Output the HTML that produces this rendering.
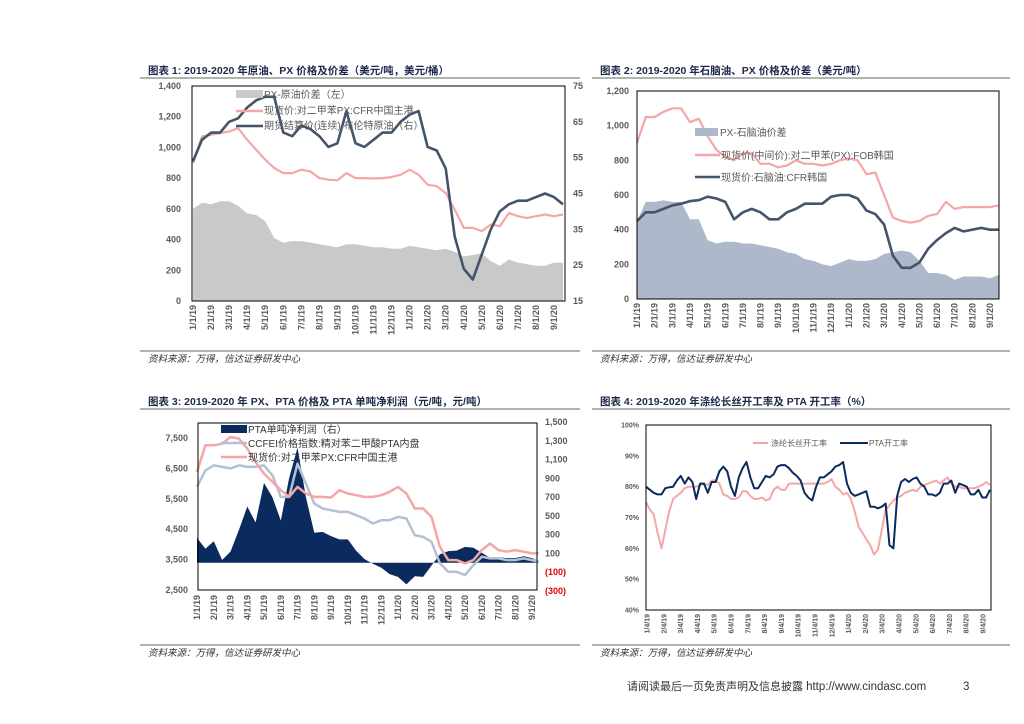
<!DOCTYPE html>
<html><head><meta charset="utf-8">
<style>
html,body{margin:0;padding:0;background:#fff;width:1024px;height:724px;overflow:hidden;}
svg text{font-family:"Liberation Sans","Noto Sans CJK SC",sans-serif;}
.tt{font-size:10.5px;font-weight:bold;fill:#1c2a4a;}
.tk{font-size:9px;font-weight:bold;fill:#595959;}
.tk4{font-size:7px;font-weight:bold;fill:#595959;}
.src{font-size:9.5px;font-style:italic;fill:#333;}
.lg{font-size:10px;fill:#595959;}
</style></head>
<body>
<svg id="page" width="1024" height="724" viewBox="0 0 1024 724" xmlns="http://www.w3.org/2000/svg">
<g>
<text class="tt" x="148" y="74">图表 1:  2019-2020 年原油、PX 价格及价差（美元/吨，美元/桶）</text>
<line x1="140" y1="78" x2="580" y2="78" stroke="#333" stroke-width="0.8"/>
</g>
<g>
<text class="tt" x="600" y="74">图表 2:  2019-2020 年石脑油、PX 价格及价差（美元/吨）</text>
<line x1="592" y1="78" x2="1010" y2="78" stroke="#333" stroke-width="0.8"/>
</g>
<g>
<text class="tt" x="148" y="405">图表 3:  2019-2020 年 PX、PTA 价格及 PTA 单吨净利润（元/吨，元/吨）</text>
<line x1="140" y1="409" x2="580" y2="409" stroke="#333" stroke-width="0.8"/>
</g>
<g>
<text class="tt" x="600" y="405">图表 4:    2019-2020 年涤纶长丝开工率及 PTA 开工率（%）</text>
<line x1="592" y1="409" x2="1010" y2="409" stroke="#333" stroke-width="0.8"/>
</g>
<line x1="140" y1="351" x2="580" y2="351" stroke="#333" stroke-width="0.8"/>
<line x1="592" y1="351" x2="1010" y2="351" stroke="#333" stroke-width="0.8"/>
<line x1="140" y1="645" x2="580" y2="645" stroke="#333" stroke-width="0.8"/>
<line x1="592" y1="645" x2="1010" y2="645" stroke="#333" stroke-width="0.8"/>
<text class="src" x="148" y="362">资料来源：万得，信达证券研发中心</text>
<text class="src" x="600" y="362">资料来源：万得，信达证券研发中心</text>
<text class="src" x="148" y="656">资料来源：万得，信达证券研发中心</text>
<text class="src" x="600" y="656">资料来源：万得，信达证券研发中心</text>
<text x="627" y="690" style="font-size:11px;fill:#333">请阅读最后一页免责声明及信息披露 <tspan style="font-size:11.5px">http://www.cindasc.com</tspan></text>
<text x="963" y="690" style="font-size:11.5px;fill:#333">3</text>
<g id="c1"></g>
<g id="c2"></g>
<g id="c3"></g>
<g id="c4"></g>
</svg>
<script>
// ---------- Chart 1 data ----------
const c1Months = [0,0.5,1,1.5,2,2.5,3,3.5,4,4.5,5,5.5,6,6.5,7,7.5,8,8.5,9,9.5,10,10.5,11,11.5,12,12.5,13,13.5,14,14.5,15,15.5,16,16.5,17,17.5,18,18.5,19,19.5,20,20.5];
const c1Spread = [600,640,630,650,650,620,570,560,520,410,380,390,390,380,370,360,350,370,370,360,350,350,340,340,360,350,340,330,340,320,290,300,310,260,230,270,250,240,230,230,250,250];
const c1PX = [898,1071,1082,1093,1104,1125,1050,985,920,866,833,833,855,844,800,790,786,833,800,800,798,800,807,822,855,822,758,747,703,595,476,476,455,498,487,573,552,541,552,563,552,563];
const c1Brent = [54,60,62,62,65,66,69,71,72,72,62,61,64,63,61,58,59,68,59,58,60,62,62,65,67,68,58,57,52,33,24,21,28,35,40,42,43,43,44,45,44,42];
const c1LeftTicks = [0,200,400,600,800,1000,1200,1400];
const c1LeftLabels = ["0","200","400","600","800","1,000","1,200","1,400"];
const c1RightTicks = [15,25,35,45,55,65,75];
const c1XLabels = ["1/1/19","2/1/19","3/1/19","4/1/19","5/1/19","6/1/19","7/1/19","8/1/19","9/1/19","10/1/19","11/1/19","12/1/19","1/1/20","2/1/20","3/1/20","4/1/20","5/1/20","6/1/20","7/1/20","8/1/20","9/1/20"];
// ---------- Chart 2 data ----------
const c2Months = [0,0.5,1,1.5,2,2.5,3,3.5,4,4.5,5,5.5,6,6.5,7,7.5,8,8.5,9,9.5,10,10.5,11,11.5,12,12.5,13,13.5,14,14.5,15,15.5,16,16.5,17,17.5,18,18.5,19,19.5,20,20.5];
const c2Spread = [450,560,560,570,560,560,460,460,340,320,330,330,320,320,310,300,290,270,260,230,220,200,190,210,230,220,220,230,260,270,280,270,220,150,150,140,110,130,130,130,120,140];
const c2PX = [900,1050,1050,1080,1100,1100,1020,1040,940,860,820,800,840,840,780,780,760,770,800,780,780,770,780,800,810,800,720,730,600,470,450,440,450,480,490,560,520,530,530,530,530,540];
const c2Naphtha = [450,500,500,520,540,550,565,570,590,580,560,460,500,520,500,460,460,500,520,550,550,550,590,600,600,580,510,490,430,250,180,180,210,290,340,380,410,390,400,410,400,400];
const c2Ticks = [0,200,400,600,800,1000,1200];
const c2Labels = ["0","200","400","600","800","1,000","1,200"];
// ---------- Chart 3 data ----------
const c3Months = [0,0.5,1,1.5,2,2.5,3,3.5,4,4.5,5,5.5,6,6.5,7,7.5,8,8.5,9,9.5,10,10.5,11,11.5,12,12.5,13,13.5,14,14.5,15,15.5,16,16.5,17,17.5,18,18.5,19,19.5,20,20.4];
const c3Profit = [266,150,230,30,120,350,600,430,850,700,450,900,1227,700,320,330,285,250,250,130,40,-10,-53,-120,-150,-230,-142,-150,-30,90,125,130,170,160,107,53,60,50,50,70,50,20];
const c3PX = [6384,7259,7259,7313,7532,7480,7150,6712,6330,6055,5782,5563,5891,5673,5563,5563,5540,5782,5673,5620,5563,5563,5620,5730,5891,5673,5180,5180,4906,3922,3485,3485,3375,3485,3813,4031,3813,3760,3813,3760,3703,3703];
const c3PTA = [5891,6438,6600,6550,6500,6600,6550,6550,6600,6274,5563,5563,6657,6000,5344,5180,5125,5070,5070,4962,4852,4688,4797,4797,4906,4852,4305,4250,4086,3375,3100,3100,2990,3320,3594,3540,3540,3485,3485,3540,3485,3430];
const c3LeftTicks = [2500,3500,4500,5500,6500,7500];
const c3LeftLabels = ["2,500","3,500","4,500","5,500","6,500","7,500"];
const c3RightTicks = [-300,-100,100,300,500,700,900,1100,1300,1500];
const c3RightLabels = ["(300)","(100)","100","300","500","700","900","1,100","1,300","1,500"];
const c3XLabels = c1XLabels;
// ---------- Chart 4 data ----------
const c4Weeks = [0,1,2,3,4,5,6,7,8,9,10,11,12,13,14,15,16,17,18,19,20,21,22,23,24,25,26,27,28,29,30,31,32,33,34,35,36,37,38,39,40,41,42,43,44,45,46,47,48,49,50,51,52,53,54,55,56,57,58,59,60,61,62,63,64,65,66,67,68,69,70,71,72,73,74,75,76,77,78,79,80,81,82,83,84,85,86,87,88,89];
const c4PTA = [80,79,78,77.5,77.5,79.5,79.8,80,82,83.5,81,83,81.5,76,81,81,78,81.5,81.5,85,86.5,85,80,77,83,86,88,83,79.5,79.5,81.5,83.5,83,84,86.5,87,87,86,84.5,83.5,82,78,76.5,75.5,80,83,83,84,85,86.5,87,88,81,78,77,77.5,78,78.5,73.5,73.5,73,73.5,74.5,61,60,77,81.5,82.5,81.5,82.5,83,81,80,77.5,77.5,77,78,81,81,82,78,81,80.5,80,77.5,77.5,79,76.5,76.5,79];
const c4Polyester = [75,72.5,71,65,60,66,72,76,77,78,79.5,80,80,80,80.5,81,80.5,82,82,81,77.5,77,76,76,76.5,78.5,78.5,77,76,76,76.5,75.5,76,79,80,79,79,81,81,81,81,81,81,81,81,81,81,81.5,82.5,80,79,77.5,78,76,72,67,65,63,61,58,59.5,66,72.5,74,75.5,76.5,77,78,78.5,79,78.5,80,80.5,81,81.5,82,81,82,83,81,80,80,79.5,79.5,79.5,79.5,80,80.5,81.5,80.5];
const c4Ticks = [40,50,60,70,80,90,100];
const c4XLabels = ["1/4/19","2/4/19","3/4/19","4/4/19","5/4/19","6/4/19","7/4/19","8/4/19","9/4/19","10/4/19","11/4/19","12/4/19","1/4/20","2/4/20","3/4/20","4/4/20","5/4/20","6/4/20","7/4/20","8/4/20","9/4/20"];

const NS = "http://www.w3.org/2000/svg";
function mk(parent, tag, attrs, txt){
  const e = document.createElementNS(NS, tag);
  for (const k in attrs) e.setAttribute(k, attrs[k]);
  if (txt !== undefined) e.textContent = txt;
  parent.appendChild(e);
  return e;
}
function lin(d0,d1,r0,r1){ return v => r0 + (v-d0)/(d1-d0)*(r1-r0); }
function linePath(xs, ys, fx, fy){
  return xs.map((x,i)=>(i?"L":"M")+fx(x).toFixed(1)+","+fy(ys[i]).toFixed(1)).join("");
}
function areaPath(xs, ys, fx, fy, base){
  let d = "M"+fx(xs[0]).toFixed(1)+","+fy(base).toFixed(1);
  xs.forEach((x,i)=>{ d += "L"+fx(x).toFixed(1)+","+fy(ys[i]).toFixed(1); });
  d += "L"+fx(xs[xs.length-1]).toFixed(1)+","+fy(base).toFixed(1)+"Z";
  return d;
}
function xLabels(g, labels, fx, y, cls){
  labels.forEach((s,i)=>{
    const x = fx(i);
    const t = mk(g,"text",{class:cls||"tk",x:0,y:0,"text-anchor":"end",transform:"translate("+(x+3)+","+y+") rotate(-90)"}, s);
    
    
  });
}

// ---------- Chart 1 ----------
(function(){
  const g = document.getElementById("c1");
  const L=192,R=565,T=86,B=301;
  const fx = lin(0,20,193,554);
  const fy = lin(0,1400,B,T);
  const fyr = lin(15,75,B,T);
  const a = mk(g,"path",{d:areaPath(c1Months,c1Spread,fx,fy,0),fill:"#c9c9c9"});
  
  
  const p = mk(g,"path",{d:linePath(c1Months,c1PX,fx,fy),fill:"none",stroke:"#f5a6a6","stroke-width":2.2,"stroke-linejoin":"round"});
  
  
  const b = mk(g,"path",{d:linePath(c1Months,c1Brent,fx,fyr),fill:"none",stroke:"#44546a","stroke-width":2.6,"stroke-linejoin":"round"});
  
  
  const box = mk(g,"rect",{x:L,y:T,width:R-L,height:B-T,fill:"none",stroke:"#000","stroke-width":1});
  
  
  c1LeftTicks.forEach((v,i)=>{
    const t = mk(g,"text",{class:"tk",x:181,y:fy(v)+3,"text-anchor":"end"},c1LeftLabels[i]);
    
    
  });
  c1RightTicks.forEach(v=>{
    const t = mk(g,"text",{class:"tk",x:573,y:fyr(v)+3},String(v));
    
    
  });
  xLabels(g,c1XLabels,i=>fx(i),305);
  const lg = mk(g,"g",{});
  
  
  mk(lg,"rect",{x:236,y:90,width:27,height:8,fill:"#c9c9c9"});
  mk(lg,"text",{class:"lg",x:264,y:98},"PX-原油价差（左）");
  mk(lg,"line",{x1:236,y1:111,x2:263,y2:111,stroke:"#f5a6a6","stroke-width":2.5});
  mk(lg,"text",{class:"lg",x:264,y:114},"现货价:对二甲苯PX:CFR中国主港");
  mk(lg,"line",{x1:236,y1:126,x2:263,y2:126,stroke:"#44546a","stroke-width":2.5});
  mk(lg,"text",{class:"lg",x:264,y:129},"期货结算价(连续):布伦特原油（右）");
})();

// ---------- Chart 2 ----------
(function(){
  const g = document.getElementById("c2");
  const L=637,R=999,T=91,B=299;
  const fx = lin(0,20,637,990);
  const fy = lin(0,1200,B,T);
  const a = mk(g,"path",{d:areaPath(c2Months,c2Spread,fx,fy,0),fill:"#adb9ca"});
  
  
  const p = mk(g,"path",{d:linePath(c2Months,c2PX,fx,fy),fill:"none",stroke:"#f5a6a6","stroke-width":2.2,"stroke-linejoin":"round"});
  
  
  const n = mk(g,"path",{d:linePath(c2Months,c2Naphtha,fx,fy),fill:"none",stroke:"#44546a","stroke-width":2.6,"stroke-linejoin":"round"});
  
  
  const box = mk(g,"rect",{x:L,y:T,width:R-L,height:B-T,fill:"none",stroke:"#000","stroke-width":1});
  
  
  c2Ticks.forEach((v,i)=>{
    const t = mk(g,"text",{class:"tk",x:629,y:fy(v)+3,"text-anchor":"end"},c2Labels[i]);
    
    
  });
  xLabels(g,c1XLabels,i=>fx(i),303);
  const lg = mk(g,"g",{});
  
  
  mk(lg,"rect",{x:695,y:128,width:23,height:8,fill:"#adb9ca"});
  mk(lg,"text",{class:"lg",x:720,y:136},"PX-石脑油价差");
  mk(lg,"line",{x1:695,y1:155,x2:720,y2:155,stroke:"#f5a6a6","stroke-width":2.5});
  mk(lg,"text",{class:"lg",x:721,y:159},"现货价(中间价):对二甲苯(PX):FOB韩国");
  mk(lg,"line",{x1:695,y1:177,x2:720,y2:177,stroke:"#44546a","stroke-width":2.5});
  mk(lg,"text",{class:"lg",x:721,y:181},"现货价:石脑油:CFR韩国");
})();

// ---------- Chart 3 ----------
(function(){
  const g = document.getElementById("c3");
  const L=198,R=537,T=423,B=590;
  const fx = lin(0,20,197,532);
  const fy = lin(2500,7500,590,438);
  const fyr = lin(-300,1500,591,422);
  const a = mk(g,"path",{d:areaPath(c3Months,c3Profit,fx,fyr,0),fill:"#0b2a5e"});
  
  
  const c = mk(g,"path",{d:linePath(c3Months,c3PTA,fx,fy),fill:"none",stroke:"#b4c0d3","stroke-width":2.5,"stroke-linejoin":"round"});
  
  
  const p = mk(g,"path",{d:linePath(c3Months,c3PX,fx,fy),fill:"none",stroke:"#f5a6a6","stroke-width":2.5,"stroke-linejoin":"round"});
  
  
  const box = mk(g,"rect",{x:L,y:T,width:R-L,height:B-T,fill:"none",stroke:"#000","stroke-width":1});
  
  
  c3LeftTicks.forEach((v,i)=>{
    const t = mk(g,"text",{class:"tk",x:188,y:fy(v)+3,"text-anchor":"end"},c3LeftLabels[i]);
    
    
  });
  c3RightTicks.forEach((v,i)=>{
    const t = mk(g,"text",{class:"tk",x:545,y:fyr(v)+3,style:v<0?"fill:#e00000":""},c3RightLabels[i]);
    
    
  });
  xLabels(g,c3XLabels,i=>fx(i),595);
  const lg = mk(g,"g",{});
  
  
  mk(lg,"rect",{x:221,y:425,width:26,height:8,fill:"#0b2a5e"});
  mk(lg,"text",{class:"lg",x:248,y:433,style:"fill:#333"},"PTA单吨净利润（右）");
  mk(lg,"line",{x1:221,y1:443,x2:247,y2:443,stroke:"#b4c0d3","stroke-width":2.5});
  mk(lg,"text",{class:"lg",x:248,y:447,style:"fill:#333"},"CCFEI价格指数:精对苯二甲酸PTA内盘");
  mk(lg,"line",{x1:221,y1:457,x2:247,y2:457,stroke:"#f5a6a6","stroke-width":2.5});
  mk(lg,"text",{class:"lg",x:248,y:461,style:"fill:#333"},"现货价:对二甲苯PX:CFR中国主港");
})();

// ---------- Chart 4 ----------
(function(){
  const g = document.getElementById("c4");
  const L=646,R=991,T=425,B=610;
  const fx = lin(0,89,646,990);
  const fy = lin(40,100,B,T);
  const p = mk(g,"path",{d:linePath(c4Weeks,c4Polyester,fx,fy),fill:"none",stroke:"#f5a6a6","stroke-width":2,"stroke-linejoin":"round"});
  
  
  const n = mk(g,"path",{d:linePath(c4Weeks,c4PTA,fx,fy),fill:"none",stroke:"#0b2a5e","stroke-width":2,"stroke-linejoin":"round"});
  
  
  const box = mk(g,"rect",{x:L,y:T,width:R-L,height:B-T,fill:"none",stroke:"#000","stroke-width":1});
  
  
  c4Ticks.forEach(v=>{
    const t = mk(g,"text",{class:"tk4",x:639,y:fy(v)+2.5,"text-anchor":"end"},v+"%");
    
    
  });
  const fm = lin(0,20,647,983);
  xLabels(g,c4XLabels,i=>fm(i)-0.5,614,"tk4");
  const lg = mk(g,"g",{});
  
  
  mk(lg,"line",{x1:753,y1:443,x2:768,y2:443,stroke:"#f5a6a6","stroke-width":2});
  mk(lg,"text",{class:"lg",x:771,y:446,style:"font-size:8px"},"涤纶长丝开工率");
  mk(lg,"line",{x1:840,y1:443,x2:868,y2:443,stroke:"#0b2a5e","stroke-width":2});
  mk(lg,"text",{class:"lg",x:869,y:446,style:"font-size:8px"},"PTA开工率");
})();
</script>
</body></html>
